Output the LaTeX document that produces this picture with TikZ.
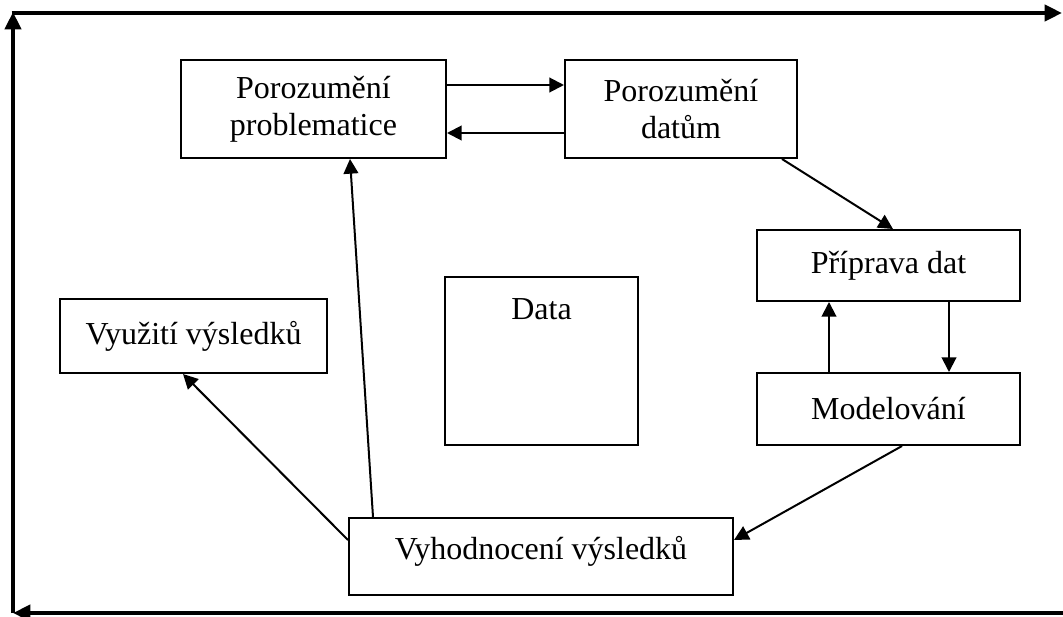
\documentclass[tikz,border=0pt]{standalone}
\usepackage{fontspec}
\setmainfont{Liberation Serif}
\usetikzlibrary{arrows.meta,calc}
\begin{document}
\begin{tikzpicture}[x=0.75pt,y=-0.75pt,
  box/.style={draw, line width=1.5pt, inner sep=0pt, align=center,
    font=\fontsize{24pt}{27.75pt}\selectfont},
  lbl/.style={inner sep=0pt, align=center, font=\fontsize{24pt}{27.75pt}\selectfont},
  arr/.style={line width=1.5pt, -{Triangle[length=11pt,width=11pt]}},
  frame/.style={line width=3pt, -{Triangle[length=13pt,width=12pt]}}]
\useasboundingbox (0,0) rectangle (1063,617);
% frame
\coordinate (bl) at (13,613);
\coordinate (tl) at (13,12);
\coordinate (tlh) at (11.5,13);
\coordinate (tr) at (1062,13);
\coordinate (br) at (1063,613);
\draw[frame] (bl) -- (tl);
\draw[line width=3pt, -{Triangle[length=13pt,width=12pt]}] (tlh) -- (tr);
\draw[frame] (br) -- (bl);
% boxes
\node[box, minimum width=198.75pt, minimum height=73.5pt] (pp) at (313.5,109) {Porozumění\\problematice};
\node[box, minimum width=174pt, minimum height=73.5pt] (pd) at (681,109) {Porozumění\\datům};
\node[box, minimum width=197.25pt, minimum height=53.25pt] (prip) at (888.5,265.5) {Příprava dat};
\node[box, minimum width=197.25pt, minimum height=54pt] (mod) at (888.5,409) {Modelování};
\node[box, minimum width=144.75pt, minimum height=126pt] (data) at (541.5,361) {};
\node[lbl, anchor=base] (datatext) at (541.5,319) {Data};
\node[box, minimum width=200.25pt, minimum height=55.5pt] (vyuz) at (193.5,336) {Využití výsledků};
\node[box, minimum width=288pt, minimum height=57.75pt] (vyh) at (541,556.5) {};
\node[lbl, anchor=base] (vyhtext) at (541,559) {Vyhodnocení výsledků};
% connectors
\draw[arr] ($(pp.east)+(0,-24)$) -- ($(pd.west)+(0,-24)$);
\draw[arr] ($(pd.west)+(0,24)$) -- ($(pp.east)+(0,24)$);
\draw[arr] ($(pd.south)+(101,0)$) -- ($(prip.north)+(4.5,0)$);
\draw[arr] ($(prip.south)+(60.5,0)$) -- ($(mod.north)+(60.5,0)$);
\draw[arr] ($(mod.north)+(-59.5,0)$) -- ($(prip.south)+(-59.5,0)$);
\draw[arr] ($(mod.south)+(13.5,0)$) -- ($(vyh.east)+(0,-16.5)$);
\draw[arr] ($(vyh.north)+(-168,0)$) -- ($(pp.south)+(36.5,0)$);
\draw[arr] ($(vyh.west)+(0,-16.5)$) -- ($(vyuz.south)+(-10.5,0)$);
\end{tikzpicture}
\end{document}
